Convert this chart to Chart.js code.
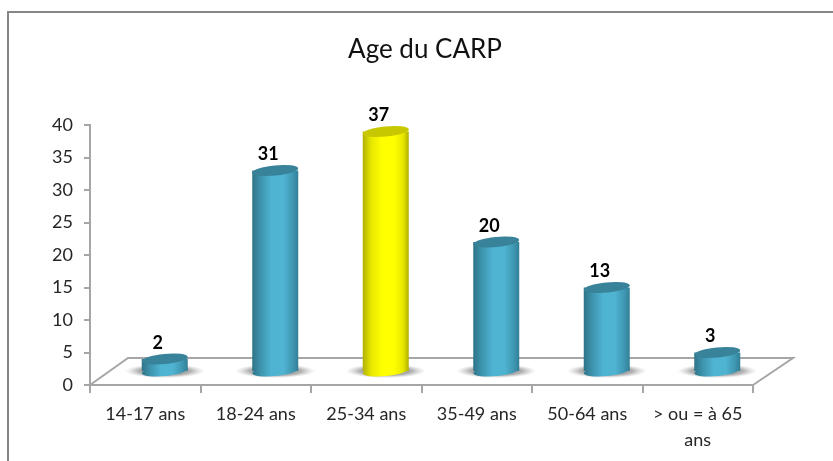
<!DOCTYPE html>
<html lang="fr">

<head>
    <meta charset="UTF-8">
    <title>Age du CARP</title>
    <script src="https://cdn.jsdelivr.net/npm/chart.js"></script>
    <style>
        html, body { margin: 0; padding: 0; background: #fff; }
        canvas { display: block; }
    </style>
</head>

<body>
    <canvas id="age" width="833" height="461"></canvas>
    <script>
        const titleText = 'Age du CARP';
        const categories = ['14-17 ans', '18-24 ans', '25-34 ans', '35-49 ans', '50-64 ans', ['> ou = à 65', 'ans']];
        const counts = [2, 31, 37, 20, 13, 3];
        const highlighted = [false, false, true, false, false, false];
        const yTicks = [0, 5, 10, 15, 20, 25, 30, 35, 40];

        // the columns stand on the floor, set back from the front edge of the axis
        const setBackX = 19.5, setBackY = 13;
        const floorDepthX = 38, floorDepthY = 27;
        const capRx = 23, capRy = 5, capTilt = -0.1;

        const tealStops = ['#2f7488', '#3d93ac', '#4fb3d2', '#4fb3d2', '#3f97b2', '#327f97'];
        const yellowStops = ['#b0b000', '#e6e600', '#ffff00', '#ffff00', '#e6e600', '#b0b000'];

        function bodyGradient(ctx, left, right, stops) {
            const g = ctx.createLinearGradient(left, 0, right, 0);
            const at = [0, 0.18, 0.42, 0.68, 0.88, 1];
            stops.forEach((c, i) => g.addColorStop(at[i], c));
            return g;
        }

        const floorPlugin = {
            id: 'floor',
            beforeDatasetsDraw(chart) {
                const { ctx, chartArea: a } = chart;
                ctx.save();
                ctx.strokeStyle = '#a6a6a6';
                ctx.lineWidth = 2;
                ctx.beginPath();
                ctx.moveTo(a.left, a.bottom);
                ctx.lineTo(a.left + floorDepthX, a.bottom - floorDepthY);
                ctx.lineTo(a.right + floorDepthX + 2, a.bottom - floorDepthY);
                ctx.lineTo(a.right, a.bottom);
                ctx.stroke();
                ctx.restore();
            }
        };

        const cylinderPlugin = {
            id: 'cylinder',
            beforeDatasetDraw(chart) {
                const { ctx } = chart;
                const bars = chart.getDatasetMeta(0).data;
                // soft shadows on the floor
                bars.forEach(bar => {
                    const g = ctx.createRadialGradient(0, 0, 0, 0, 0, 1);
                    g.addColorStop(0, 'rgba(70,70,70,0.8)');
                    g.addColorStop(0.65, 'rgba(100,100,100,0.5)');
                    g.addColorStop(1, 'rgba(160,160,160,0)');
                    ctx.save();
                    ctx.translate(bar.x + setBackX, bar.base - setBackY);
                    ctx.scale(40, 7);
                    ctx.fillStyle = g;
                    ctx.beginPath();
                    ctx.arc(0, 0, 1, 0, Math.PI * 2);
                    ctx.fill();
                    ctx.restore();
                });
                ctx.save();
                ctx.translate(setBackX, -setBackY);
                bars.forEach((bar, i) => {
                    const stops = highlighted[i] ? yellowStops : tealStops;
                    ctx.fillStyle = bodyGradient(ctx, bar.x - capRx, bar.x + capRx, stops);
                    ctx.beginPath();
                    ctx.ellipse(bar.x, bar.base, capRx, capRy, capTilt, 0, Math.PI * 2);
                    ctx.fill();
                });
            },
            afterDatasetDraw(chart) {
                const { ctx } = chart;
                const bars = chart.getDatasetMeta(0).data;
                bars.forEach((bar, i) => {
                    const stops = highlighted[i] ? yellowStops : tealStops;
                    ctx.fillStyle = bodyGradient(ctx, bar.x - capRx, bar.x + capRx, stops);
                    ctx.beginPath();
                    ctx.ellipse(bar.x, bar.y, capRx, capRy, capTilt, 0, Math.PI);
                    ctx.fill();
                    ctx.fillStyle = highlighted[i] ? '#c8c800' : '#38829a';
                    ctx.beginPath();
                    ctx.ellipse(bar.x, bar.y, capRx, capRy, capTilt, 0, Math.PI * 2);
                    ctx.fill();
                });
                ctx.restore();

                // value labels sit a little to the left of the column
                ctx.save();
                ctx.font = 'bold 18px Lato';
                ctx.fillStyle = '#000';
                ctx.textAlign = 'center';
                ctx.textBaseline = 'middle';
                bars.forEach((bar, i) => {
                    ctx.fillText(counts[i], bar.x + setBackX - 7, bar.y - setBackY - 16);
                });
                ctx.restore();
            }
        };

        const frame = {
            id: 'frame',
            beforeDraw(chart) {
                const { ctx } = chart;
                ctx.save();
                ctx.strokeStyle = '#868686';
                ctx.lineWidth = 2;
                ctx.beginPath();
                ctx.moveTo(8, 461);
                ctx.lineTo(8, 12);
                ctx.lineTo(833, 12);
                ctx.stroke();
                ctx.font = '26px Lato';
                ctx.fillStyle = '#111';
                ctx.textAlign = 'center';
                ctx.textBaseline = 'middle';
                ctx.fillText(titleText, 425, 50);
                ctx.restore();
            }
        };

        new Chart(document.getElementById('age'), {
            type: 'bar',
            data: {
                labels: categories,
                datasets: [{
                    data: counts,
                    barPercentage: 46 / 110.5,
                    categoryPercentage: 1,
                    backgroundColor: c => {
                        const x = c.chart.scales.x ? c.chart.scales.x.getPixelForValue(c.dataIndex) : NaN;
                        const stops = highlighted[c.dataIndex] ? yellowStops : tealStops;
                        if (!Number.isFinite(x)) return stops[2];
                        return bodyGradient(c.chart.ctx, x - capRx, x + capRx, stops);
                    }
                }]
            },
            plugins: [frame, floorPlugin, cylinderPlugin],
            options: {
                responsive: false,
                animation: false,
                layout: { padding: { left: 0, right: 80, top: 125, bottom: 0 } },
                plugins: {
                    legend: { display: false },
                    tooltip: { enabled: false },
                    title: { display: false }
                },
                scales: {
                    x: {
                        afterFit: axis => { axis.height = 76; },
                        grid: { drawOnChartArea: false, color: '#a6a6a6', lineWidth: 2, tickLength: 8 },
                        border: { color: '#a6a6a6', width: 2 },
                        ticks: { color: '#262626', font: { family: 'Lato', size: 18, lineHeight: 1.45 }, maxRotation: 0, autoSkip: false, padding: 8 }
                    },
                    y: {
                        min: 0,
                        max: 40,
                        afterFit: axis => { axis.width = 90; },
                        afterBuildTicks: axis => { axis.ticks = yTicks.map(v => ({ value: v })); },
                        grid: { drawOnChartArea: false, color: '#a6a6a6', lineWidth: 2, tickLength: 6 },
                        border: { color: '#a6a6a6', width: 2 },
                        ticks: { color: '#262626', font: { family: 'Lato', size: 18 }, padding: 11 }
                    }
                }
            }
        });
    </script>
</body>

</html>
